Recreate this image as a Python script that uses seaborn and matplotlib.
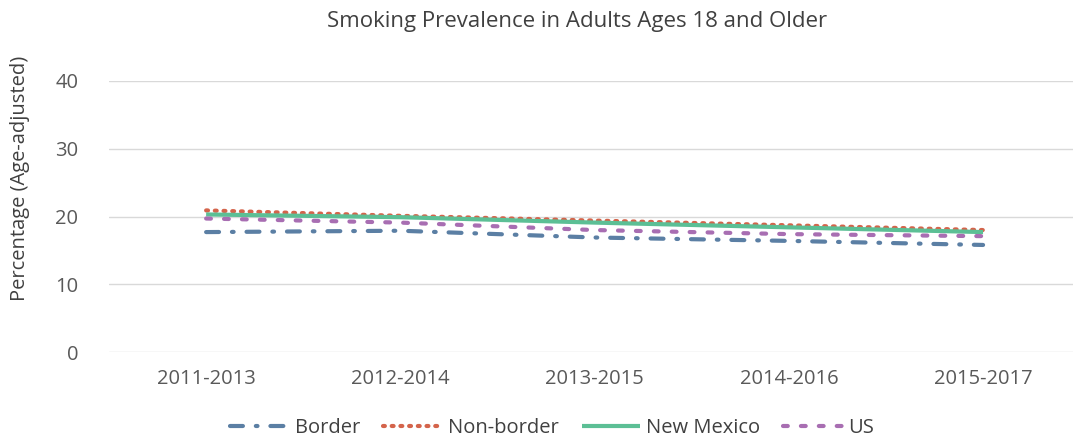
import pandas as pd
import seaborn as sns
import matplotlib.pyplot as plt

periods = ["2011-2013", "2012-2014", "2013-2015", "2014-2016", "2015-2017"]
border = [17.7, 17.9, 16.9, 16.4, 15.8]
non_border = [20.9, 20.1, 19.4, 18.7, 18.0]
new_mexico = [20.3, 19.9, 19.1, 18.4, 17.7]
us = [19.7, 19.1, 18.0, 17.4, 17.1]

groups = ["Border", "Non-border", "New Mexico", "US"]
colors = {"Border": "#5B7FA4", "Non-border": "#D4644B",
          "New Mexico": "#5CBF95", "US": "#A86EB2"}
# round caps are added below, so dash lengths are short and gaps long
dashes = {"Border": (3.1, 3.1, 0.4, 3.1), "Non-border": (0.45, 1.64),
          "New Mexico": "", "US": (1.15, 3.15)}

rows = []
for name, vals in zip(groups, [border, non_border, new_mexico, us]):
    for i, v in enumerate(vals):
        rows.append({"period": i, "value": v, "group": name})
df = pd.DataFrame(rows)

sns.set_style("white")
plt.rcParams["font.family"] = ["Open Sans", "DejaVu Sans"]

fig = plt.figure(figsize=(10.73, 4.38), dpi=100)
ax = fig.add_axes([109 / 1073, 1 - 352 / 438, 964 / 1073, 271 / 438])

sns.lineplot(data=df, x="period", y="value", hue="group", style="group",
             hue_order=groups, style_order=groups, palette=colors,
             dashes=dashes, linewidth=3, ax=ax)

ax.set_xlim(-0.5, 4.463)
ax.set_ylim(0, 40)
ax.set_yticks([0, 10, 20, 30, 40])
ax.set_xticks(range(5))
ax.set_xticklabels(periods)
ax.grid(axis="y", color="#D9D9D9", linewidth=1)
ax.set_axisbelow(True)
for s in ax.spines.values():
    s.set_visible(False)
ax.tick_params(axis="both", length=0, labelsize=14.5, colors="#595959")
ax.tick_params(axis="y", pad=22)
ax.tick_params(axis="x", pad=12)
ax.set_xlabel("")
ax.set_ylabel("")
fig.text(20 / 1073, 1 - 178 / 438, "Percentage (Age-adjusted)", rotation=90,
         ha="center", va="center", fontsize=14.5, color="#404040")
fig.text(577 / 1073, 1 - 21 / 438, "Smoking Prevalence in Adults Ages 18 and Older",
         ha="center", va="center", fontsize=16, color="#404040")

leg = ax.legend(loc="center", bbox_to_anchor=(552 / 1073, 1 - 428 / 438),
                bbox_transform=fig.transFigure,
                ncol=4, frameon=False, fontsize=14.5, handlelength=2.9,
                columnspacing=1.15, handletextpad=0.3)
for t in leg.get_texts():
    t.set_color("#404040")

for ln in list(ax.get_lines()) + list(leg.get_lines()):
    ln.set_dash_capstyle("round")
    ln.set_solid_capstyle("butt")

fig.savefig("out.png", dpi=100)
